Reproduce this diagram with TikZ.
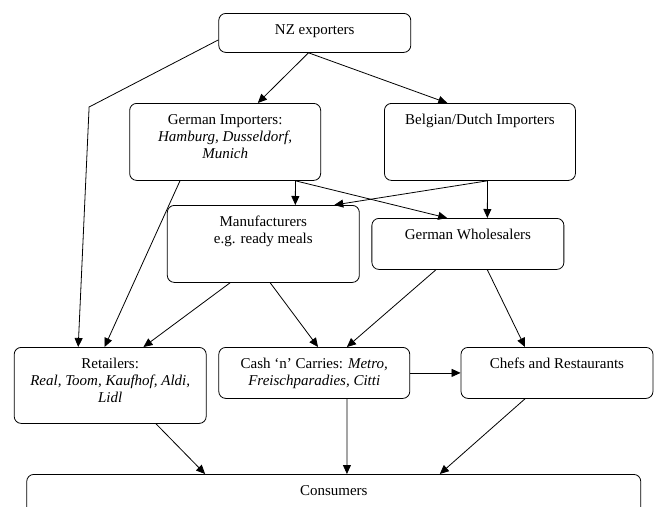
\documentclass[tikz,border=0pt]{standalone}
\usepackage{fontspec}
\setmainfont{Liberation Serif}
\usetikzlibrary{arrows.meta}
% top-aligned text inside a box of fixed size
\newcommand{\boxtext}[3]{\parbox[c][#2][t]{#1}{\centering\rule{0pt}{21pt}#3}}
\tikzset{
  box/.style={draw, rounded corners=7pt, inner sep=0pt, anchor=north west, line width=0.8pt,
    font=\fontsize{15}{17}\selectfont},
  flow/.style={-{Triangle[length=9pt,width=8pt]}, line width=0.8pt}
}
\begin{document}
\begin{tikzpicture}[x=1.255pt, y=-1pt]
    \clip (0,0) rectangle (522.7,506);
    % boxes
    \node[box] (nz) at (174,13) {\boxtext{192pt}{39pt}{NZ exporters}};
    \node[box] (gimp) at (103,103) {\boxtext{191pt}{77pt}{German Importers:\\ \textit{Hamburg, Dusseldorf,}\\ \textit{Munich}}};
    \node[box] (belg) at (306,103) {\boxtext{191pt}{77pt}{Belgian/Dutch Importers}};
    \node[box] (manuf) at (133,205) {\boxtext{192pt}{77pt}{Manufacturers\\ e.g. ready meals}};
    \node[box] (whole) at (296,218) {\boxtext{192pt}{51pt}{German Wholesalers}};
    \node[box] (ret) at (11,347) {\boxtext{192pt}{76pt}{Retailers:\\ \textit{Real, Toom, Kaufhof, Aldi,}\\ \textit{Lidl}}};
    \node[box] (cash) at (174,347) {\boxtext{191pt}{51pt}{Cash ‘n’ Carries: \textit{Metro,}\\ \textit{Freischparadies, Citti}}};
    \node[box] (chefs) at (367,347) {\boxtext{192pt}{51pt}{Chefs and Restaurants}};
    \node[box] (cons) at (21,474) {\boxtext{614pt}{60pt}{Consumers}};
    \coordinate (bend) at (71,107);
    % arrows
    \draw[flow] ([yshift=-7pt]nz.west) -- (bend) -- ([shift={(-25.5,0)}]ret.north);
    \draw[flow] ([shift={(-5,0)}]nz.south) -- ([shift={(26,0)}]gimp.north);
    \draw[flow] ([shift={(-5,0)}]nz.south) -- ([shift={(-26,0)}]belg.north);
    \draw[flow] ([shift={(-36,0)}]gimp.south) -- ([shift={(-4.5,0)}]ret.north);
    \draw[flow] ([shift={(56,0)}]gimp.south) -- ([shift={(25.5,0)}]manuf.north);
    \draw[flow] ([shift={(56,0)}]gimp.south) -- ([shift={(-16.5,0)}]whole.north);
    \draw[flow] ([shift={(6,0)}]belg.south) -- ([shift={(56.5,0)}]manuf.north);
    \draw[flow] ([shift={(6,0)}]belg.south) -- ([shift={(15.5,0)}]whole.north);
    \draw[flow] ([shift={(-26.5,0)}]manuf.south) -- ([shift={(26.5,0)}]ret.north);
    \draw[flow] ([shift={(5.5,0)}]manuf.south) -- ([shift={(3,0)}]cash.north);
    \draw[flow] ([shift={(-25.5,0)}]whole.south) -- ([shift={(26,0)}]cash.north);
    \draw[flow] ([shift={(15.5,0)}]whole.south) -- ([shift={(-25.5,0)}]chefs.north);
    \draw[flow] (cash.east) -- (chefs.west);
    \draw[flow] ([shift={(36.5,0)}]ret.south) -- ([shift={(-102.5,0)}]cons.north);
    \draw[flow] ([shift={(26,0)}]cash.south) -- ([shift={(10.5,0)}]cons.north);
    \draw[flow] ([shift={(-25.5,0)}]chefs.south) -- ([shift={(84.5,0)}]cons.north);
\end{tikzpicture}
\end{document}
